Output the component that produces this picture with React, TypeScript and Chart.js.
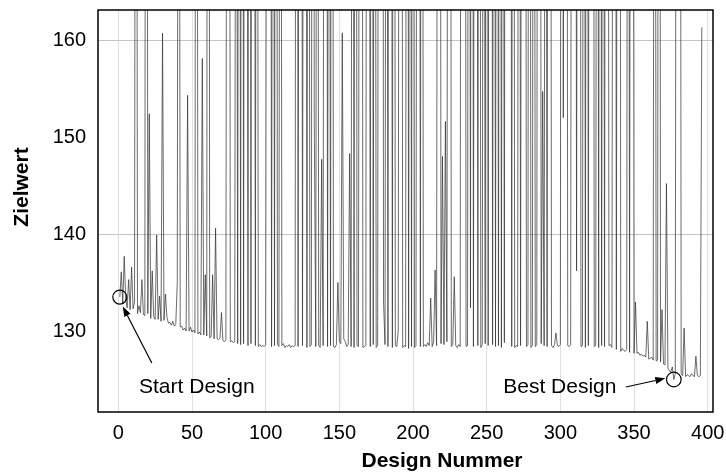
import React, { useEffect, useRef } from 'react';
import { Chart, registerables } from 'chart.js';

Chart.register(...registerables);

// Zielwert per design (designs 1..396). Large values = failed designs (off the top of the chart).
const zielwert001_050 = [
  133.5, 136.1, 132.8, 137.7, 133.3, 132.4, 135.3, 132.2, 136.6, 132.3,
  133.0, 260, 131.8, 132.6, 131.9, 135.3, 131.7, 131.6, 300, 131.8,
  152.4, 131.3, 136.2, 131.5, 131.2, 139.9, 131.2, 133.6, 131.0, 160.7,
  131.1, 133.8, 131.4, 130.8, 130.9, 130.6, 131.0, 130.5, 130.7, 135.0,
  240, 130.4, 130.5, 130.1, 130.3, 130.0, 154.3, 130.0, 130.4, 129.9,
];
const zielwert051_100 = [
  130.1, 129.8, 280, 129.7, 129.9, 129.6, 158.1, 129.6, 135.8, 129.5,
  320, 129.3, 129.4, 135.8, 129.2, 140.6, 129.2, 129.1, 129.3, 131.9,
  129.0, 128.9, 129.1, 250, 290, 128.9, 129.0, 128.8, 128.9, 230,
  128.7, 270, 128.6, 310, 128.7, 260, 240, 128.5, 300, 128.7,
  280, 250, 128.5, 260, 128.4, 128.6, 128.4, 128.5, 128.4, 128.6,
];
const zielwert101_150 = [
  240, 300, 270, 128.4, 250, 128.5, 280, 128.6, 128.4, 260,
  128.5, 128.7, 128.3, 128.5, 128.4, 128.6, 128.3, 128.5, 128.4, 128.5,
  300, 128.4, 240, 270, 128.5, 250, 290, 128.3, 260, 128.4,
  128.6, 280, 151.4, 128.4, 250, 128.5, 128.3, 147.7, 128.5, 270,
  300, 128.4, 240, 128.5, 280, 128.4, 128.3, 128.6, 135.0, 128.9,
];
const zielwert151_200 = [
  128.7, 160.75, 129.2, 128.9, 128.4, 128.6, 148.3, 128.4, 260, 128.3,
  290, 128.5, 128.4, 250, 270, 128.3, 128.4, 128.5, 300, 240,
  128.4, 280, 128.6, 250, 128.3, 128.5, 270, 260, 300, 133.0,
  128.6, 240, 128.4, 280, 250, 128.3, 290, 128.5, 128.4, 130.1,
  260, 270, 128.3, 128.5, 128.4, 300, 128.2, 250, 128.4, 280,
];
const zielwert201_250 = [
  128.3, 128.5, 240, 270, 128.4, 290, 128.4, 128.6, 128.4, 128.8,
  128.5, 133.4, 128.4, 128.9, 136.3, 128.5, 260, 300, 128.7, 148.0,
  128.6, 151.6, 128.9, 250, 280, 128.4, 128.6, 135.6, 128.5, 128.3,
  128.6, 128.4, 270, 240, 290, 128.4, 128.5, 260, 132.4, 300,
  128.4, 250, 280, 128.5, 270, 128.3, 128.6, 240, 128.7, 290,
];
const zielwert251_300 = [
  128.5, 260, 300, 128.6, 250, 128.4, 280, 128.5, 270, 128.3,
  240, 128.8, 290, 260, 300, 250, 128.4, 280, 128.3, 128.5,
  128.4, 270, 128.5, 240, 290, 260, 128.4, 128.6, 300, 128.3,
  128.5, 250, 128.4, 128.6, 280, 270, 128.7, 154.7, 128.5, 240,
  128.4, 290, 260, 128.5, 128.3, 128.6, 129.8, 128.5, 128.4, 128.6,
];
const zielwert301_350 = [
  300, 152.0, 250, 280, 128.5, 128.4, 128.6, 270, 240, 290,
  136.2, 260, 300, 128.4, 128.5, 250, 128.3, 280, 128.5, 270,
  240, 290, 128.4, 128.5, 260, 128.3, 300, 128.5, 250, 128.4,
  280, 270, 128.5, 128.6, 128.3, 240, 290, 128.1, 260, 300,
  127.9, 128.2, 128.0, 127.9, 128.1, 250, 127.8, 280, 270, 127.7,
];
const zielwert351_396 = [
  133.0, 127.7, 127.8, 127.5, 127.6, 127.4, 127.5, 127.3, 131.0, 127.1,
  127.2, 127.3, 127.0, 260, 126.9, 127.0, 300, 126.8, 132.2, 126.6,
  126.5, 145.2, 126.2, 125.9, 125.8, 126.3, 125.0, 125.6, 250, 280,
  270, 125.6, 125.4, 130.3, 125.3, 125.5, 125.4, 125.3, 125.6, 125.4,
  125.3, 127.4, 125.4, 125.3, 125.4, 161.3,
];

const zielwert = [
  ...zielwert001_050, ...zielwert051_100, ...zielwert101_150, ...zielwert151_200,
  ...zielwert201_250, ...zielwert251_300, ...zielwert301_350, ...zielwert351_396,
];
const designNummer = zielwert.map((_, i) => i + 1);

const xTicks = [0, 50, 100, 150, 200, 250, 300, 350, 400];
const yTicks = [130, 140, 150, 160];
const yGridValues = [140, 160];

const startIndex = 0;   // Start Design (design 1)
const bestIndex = 376;  // Best Design (design 377)

const xTitle = 'Design Nummer';
const yTitle = 'Zielwert';
const startLabel = 'Start Design';
const bestLabel = 'Best Design';

const FONT = "'Liberation Sans', Arial, Helvetica, sans-serif";

function arrow(ctx: CanvasRenderingContext2D, x1: number, y1: number, x2: number, y2: number) {
  const ang = Math.atan2(y2 - y1, x2 - x1);
  const len = 10;
  const wid = 3.5;
  const bx = x2 - len * Math.cos(ang);
  const by = y2 - len * Math.sin(ang);
  ctx.beginPath();
  ctx.moveTo(x1, y1);
  ctx.lineTo(bx, by);
  ctx.stroke();
  ctx.beginPath();
  ctx.moveTo(x2, y2);
  ctx.lineTo(bx + wid * Math.sin(ang), by - wid * Math.cos(ang));
  ctx.lineTo(bx - wid * Math.sin(ang), by + wid * Math.cos(ang));
  ctx.closePath();
  ctx.fill();
}

const overlayPlugin = {
  id: 'overlay',
  afterDraw(chart: any) {
    const { ctx, chartArea } = chart;
    const { left, right, top, bottom } = chartArea;
    const xs = chart.scales.x;
    const ys = chart.scales.y;
    ctx.save();
    // frame
    ctx.strokeStyle = '#000';
    ctx.lineWidth = 1.5;
    ctx.strokeRect(left, top, right - left, bottom - top);

    ctx.fillStyle = '#000';
    ctx.lineWidth = 1.2;
    // start design
    const sx = xs.getPixelForValue(designNummer[startIndex]);
    const sy = ys.getPixelForValue(zielwert[startIndex]);
    ctx.beginPath();
    ctx.ellipse(sx, sy, 7, 7, 0, 0, Math.PI * 2);
    ctx.stroke();
    arrow(ctx, sx + 32, sy + 66, sx + 3, sy + 9.5);
    ctx.font = `21px ${FONT}`;
    ctx.textAlign = 'center';
    ctx.textBaseline = 'alphabetic';
    ctx.fillText(startLabel, sx + 77, sy + 96);

    // best design
    const bx = xs.getPixelForValue(designNummer[bestIndex]);
    const by = ys.getPixelForValue(zielwert[bestIndex]);
    ctx.beginPath();
    ctx.ellipse(bx, by, 7.3, 7.3, 0, 0, Math.PI * 2);
    ctx.stroke();
    arrow(ctx, bx - 48, by + 7.5, bx - 8.5, by - 1.2);
    ctx.fillText(bestLabel, bx - 114, by + 13.5);

    // axis titles
    ctx.font = `bold 21px ${FONT}`;
    ctx.textBaseline = 'middle';
    ctx.textAlign = 'center';
    ctx.fillText(xTitle, 442, 461);
    ctx.translate(22, 187);
    ctx.rotate(-Math.PI / 2);
    ctx.fillText(yTitle, 0, 0);
    ctx.restore();
  },
};

export default function App() {
  const canvasRef = useRef<HTMLCanvasElement | null>(null);

  useEffect(() => {
    const canvas = canvasRef.current;
    if (!canvas) return;
    const chart = new Chart(canvas, {
      type: 'line',
      data: {
        datasets: [
          {
            data: designNummer.map((d, i) => ({ x: d, y: zielwert[i] })),
            borderColor: 'rgba(50,50,50,0.8)',
            borderWidth: 0.9,
            pointRadius: 0,
            fill: false,
            tension: 0,
          },
        ],
      },
      options: {
        animation: false,
        responsive: false,
        maintainAspectRatio: false,
        devicePixelRatio: 1,
        layout: { padding: { left: 0, right: 13, top: 10, bottom: 0 } },
        plugins: {
          legend: { display: false },
          tooltip: { enabled: false },
          title: { display: false },
        },
        scales: {
          x: {
            type: 'linear',
            min: -13.8,
            max: 403.6,
            afterBuildTicks: (s: any) => {
              s.ticks = xTicks.map((v) => ({ value: v }));
            },
            afterFit: (s: any) => {
              s.height = 61;
              s.paddingLeft = 0;
              s.paddingRight = 0;
            },
            grid: { color: '#e0e0e0', lineWidth: 1, drawTicks: false },
            border: { display: false },
            ticks: {
              color: '#000',
              font: { family: FONT, size: 20 },
              padding: 9,
              maxRotation: 0,
              autoSkip: false,
            },
          },
          y: {
            type: 'linear',
            min: 121.65,
            max: 163.1,
            afterBuildTicks: (s: any) => {
              s.ticks = yTicks.map((v) => ({ value: v }));
            },
            afterFit: (s: any) => {
              s.width = 98;
              s.paddingTop = 0;
              s.paddingBottom = 0;
            },
            grid: {
              color: (c: any) =>
                c.tick && yGridValues.includes(c.tick.value) ? '#c4c4c4' : 'rgba(0,0,0,0)',
              lineWidth: 1,
              drawTicks: false,
            },
            border: { display: false },
            ticks: {
              color: '#000',
              font: { family: FONT, size: 20 },
              padding: 12,
              autoSkip: false,
            },
          },
        },
      },
      plugins: [overlayPlugin],
    });
    return () => chart.destroy();
  }, []);

  return (
    <div style={{ position: 'absolute', left: 0, top: 0, width: 726, height: 473, background: '#fff' }}>
      <canvas ref={canvasRef} width={726} height={473} style={{ display: 'block' }} />
    </div>
  );
}
